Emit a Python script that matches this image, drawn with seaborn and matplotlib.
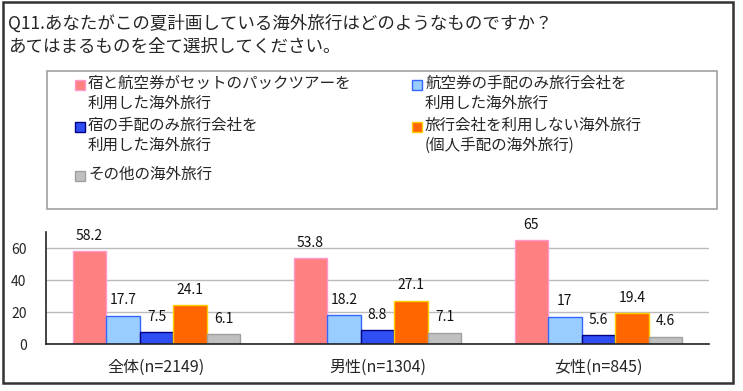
import numpy as np
import pandas as pd
import matplotlib
matplotlib.use("Agg")
import matplotlib.pyplot as plt
from matplotlib.patches import Rectangle
import seaborn as sns

# data
groups = ["全体(n=2149)", "男性(n=1304)", "女性(n=845)"]
series = ["宿と航空券がセットのパックツアーを\n利用した海外旅行",
          "航空券の手配のみ旅行会社を\n利用した海外旅行",
          "宿の手配のみ旅行会社を\n利用した海外旅行",
          "旅行会社を利用しない海外旅行\n(個人手配の海外旅行)",
          "その他の海外旅行"]
pack_tour = [58.2, 53.8, 65]
air_only = [17.7, 18.2, 17]
hotel_only = [7.5, 8.8, 5.6]
no_agency = [24.1, 27.1, 19.4]
other = [6.1, 7.1, 4.6]
value_labels = [["58.2", "53.8", "65"], ["17.7", "18.2", "17"], ["7.5", "8.8", "5.6"],
                ["24.1", "27.1", "19.4"], ["6.1", "7.1", "4.6"]]

fills = ["#FF8080", "#99CCFF", "#2F4FF5", "#FF6600", "#C0C0C0"]
edges = ["#FF99CC", "#3366FF", "#000080", "#FFCC00", "#A0A0A0"]

sns.set_style("white")
plt.rcParams['font.family'] = ['Noto Sans CJK JP', 'DejaVu Sans']

rows = []
for s, vals in zip(series, [pack_tour, air_only, hotel_only, no_agency, other]):
    for g, v in zip(groups, vals):
        rows.append({"group": g, "series": s, "value": v})
df = pd.DataFrame(rows)

W, H = 743, 391
fig = plt.figure(figsize=(W / 100, H / 100), dpi=100)
ax = fig.add_axes([46 / W, 1 - 344 / H, (709 - 46) / W, (344 - 232) / H])

sns.barplot(data=df, x="group", y="value", hue="series", order=groups, hue_order=series,
            palette=fills, width=0.76, gap=0, saturation=1, legend=False, ax=ax)

for i, cont in enumerate(ax.containers):
    for bar in cont:
        bar.set_edgecolor(edges[i])
        bar.set_linewidth(1.0)
    ax.bar_label(cont, labels=value_labels[i], padding=6, fontsize=10, color="#111111")

ax.set_ylim(0, 70)
ax.set_xlim(-0.5, 2.5)
ax.set_yticks([0, 20, 40, 60])
ax.yaxis.grid(True, color="#BBBBBB", linewidth=1)
ax.set_axisbelow(True)
ax.set_xlabel("")
ax.set_ylabel("")
for sp in ["top", "right"]:
    ax.spines[sp].set_visible(False)
for sp in ["left", "bottom"]:
    ax.spines[sp].set_color("#222222")
    ax.spines[sp].set_linewidth(1.2)
ax.tick_params(axis="y", length=0, pad=14, labelsize=10)
ax.tick_params(axis="x", which="major", length=0, pad=11, labelsize=11.5)
ax.set_xticks([0.5, 1.5, 2.5], minor=True)
ax.tick_params(axis="x", which="minor", direction="in", length=3, width=1, color="#222222")

# title
fig.text(8 / W, 1 - 24 / H, "Q11.あなたがこの夏計画している海外旅行はどのようなものですか？",
         fontsize=12.6, va="center", ha="left")
fig.text(8 / W, 1 - 47 / H, "あてはまるものを全て選択してください。",
         fontsize=12.6, va="center", ha="left")

# legend box
fig.patches.append(Rectangle((47 / W, 1 - 209 / H), (717 - 47) / W, (209 - 71) / H,
                             transform=fig.transFigure, fill=False, edgecolor="#A0A0A0", lw=1.2))
leg_pos = [(75, 85), (412, 85), (75, 127), (412, 127), (75, 176)]
for i, (x, y) in enumerate(leg_pos):
    fig.patches.append(Rectangle((x / W, 1 - (y + 5) / H), 10 / W, 10 / H,
                                 transform=fig.transFigure, facecolor=fills[i],
                                 edgecolor=edges[i], lw=1))
    fig.text((x + 13) / W, 1 - (y - 10) / H, series[i], fontsize=11.2, va="top", ha="left",
             linespacing=1.18)

# outer frame
fig.patches.append(Rectangle((3 / W, 1 - 383 / H), (733 - 3) / W, (383 - 2) / H,
                             transform=fig.transFigure, fill=False, edgecolor="#333333", lw=1.8))

fig.savefig("out.png", dpi=100)
